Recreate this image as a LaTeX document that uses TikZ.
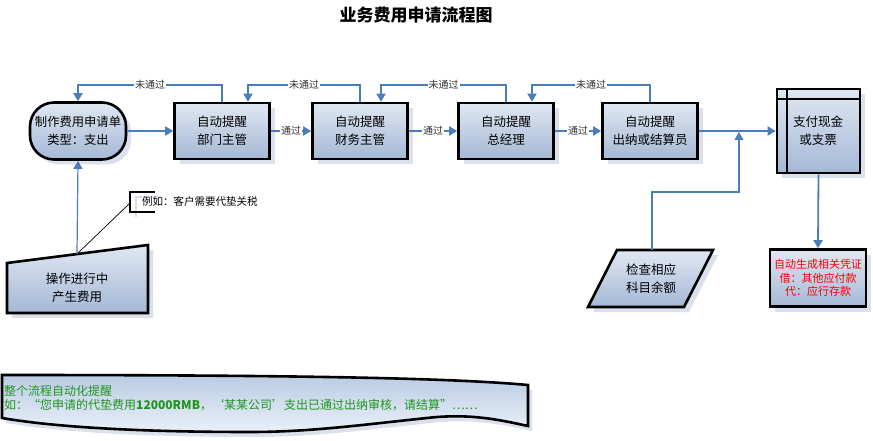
\documentclass[tikz,border=0pt]{standalone}
\usepackage{fontspec}
\setmainfont{Noto Sans CJK SC}
\usetikzlibrary{arrows.meta,shadows}
\definecolor{linkblue}{RGB}{74,126,187}
\definecolor{boxtop}{RGB}{224,231,242}
\definecolor{boxbot}{RGB}{164,184,214}
\definecolor{shadowc}{RGB}{218,225,237}
\definecolor{notegreen}{RGB}{30,150,30}
\definecolor{wavetop}{RGB}{186,203,228}
\definecolor{wavebot}{RGB}{234,240,248}
\definecolor{lblgray}{RGB}{50,50,50}
\begin{document}
\begin{tikzpicture}[x=1pt,y=-1pt,
  boxfill/.style={shading=axis, top color=boxtop, bottom color=boxbot},
  shad/.style={drop shadow={shadow xshift=5pt, shadow yshift=-5pt, fill=shadowc, opacity=1}},
  proc/.style={draw=black, line width=2.6pt, boxfill, shad, minimum width=95pt, minimum height=56pt,
    align=center, inner sep=1pt, font=\fontsize{12.5}{18}\selectfont},
  startbox/.style={proc, rounded corners=24pt, minimum width=96pt, minimum height=57pt, font=\fontsize{12.3}{18}\selectfont},
  txt/.style={align=center, inner sep=0pt, font=\fontsize{12.5}{18}\selectfont},
  arr/.style={draw=linkblue, line width=1.8pt, -{Triangle[width=9pt,length=8pt]}},
  arrthin/.style={draw=linkblue, line width=1.2pt, -{Triangle[width=9pt,length=8pt]}},
  lbl/.style={fill=white, inner sep=1pt, text=lblgray, font=\fontsize{10}{12}\selectfont},
  titlestyle/.style={inner sep=0pt, font=\fontsize{17}{20}\selectfont\bfseries},
  wavetext/.style={anchor=west, inner sep=0pt, text=notegreen, font=\fontsize{12}{14}\selectfont}
]
\useasboundingbox (0,0) rectangle (873,441);

% title
\node[titlestyle] (title) at (416,15) {业务费用申请流程图};

% main row
\node[startbox] (start) at (78,131) {制作费用申请单\\类型：支出};
\node[proc] (b1) at (222,131) {自动提醒\\部门主管};
\node[proc] (b2) at (360,131) {自动提醒\\财务主管};
\node[proc] (b3) at (506,131) {自动提醒\\总经理};
\node[proc] (b4) at (650,131) {自动提醒\\出纳或结算员};

% internal storage
\node[proc, minimum width=83pt, minimum height=84pt] (b5) at (818.5,131) {};
\draw[line width=2pt] ([xshift=11pt]b5.north west) -- ([xshift=11pt]b5.south west);
\draw[line width=2pt] ([yshift=-11pt]b5.north west) -- ([yshift=-11pt]b5.north east);
\node[txt] (b5t) at (818,131) {支付现金\\或支票};

% red result box
\node[proc, minimum width=96pt, minimum height=57pt, text=red,
  font=\fontsize{11}{13.5}\selectfont] (red) at (818,278) {自动生成相关凭证\\借：其他应付款\\代：应行存款};

% parallelogram
\draw[line width=2.6pt, boxfill, shad] (588,307) -- (617,250) -- (713,250) -- (684,307) -- cycle;
\node[txt] (para) at (651,279) {检查相应\\科目余额};
\coordinate (paratop) at (652,250);

% manual input
\draw[line width=2.6pt, boxfill, shad] (7,263) -- (148,245) -- (148,313) -- (7,313) -- cycle;
\node[txt] (manual) at (77,288) {操作进行中\\产生费用};
\coordinate (mtop) at (77,254);

% annotation
\draw[line width=1.5pt, shadowc] (161,197) -- (136,197) -- (136,217);
\draw[line width=2.6pt] (155,192) -- (130,192) -- (130,212) -- (155,212);
\coordinate (brk) at (130,203);
\draw[line width=0.7pt, black] (brk) -- (mtop);
\node[anchor=west, inner sep=0pt, font=\fontsize{10.5}{12}\selectfont] (note) at (142,201) {例如：客户需要代垫关税};

% wave document
\draw[line width=2.6pt, shading=axis, top color=wavetop, bottom color=wavebot,
  drop shadow={shadow xshift=4pt, shadow yshift=-5pt, fill=shadowc, opacity=1}]
  (2,375) .. controls (300,375) and (450,378) .. (528,385) -- (528,426)
  .. controls (500,420) and (470,413) .. (427,418)
  .. controls (360,425) and (310,432) .. (250,432)
  .. controls (150,432) and (60,428) .. (2,418) -- cycle;
\node[wavetext] (w1) at (4,391) {整个流程自动化提醒};
\node[wavetext] (w2) at (4,405) {如：“您申请的代垫费用\textbf{12000RMB}，‘某某公司’支出已通过出纳审核，请结算”……};

% forward connectors
\draw[arr] (start.east) -- (b1.west);
\draw[arr] (b1.east) -- node[lbl]{通过} (b2.west);
\draw[arr] (b2.east) -- node[lbl]{通过} (b3.west);
\draw[arr] (b3.east) -- node[lbl]{通过} (b4.west);
\draw[arr] (b4.east) -- (b5.west);
\draw[arr] (b5.south) -- (red.north);

% join from check box
\coordinate (jn) at (739,132);
\coordinate (y192) at (0,192);
\draw[arrthin] (paratop) -- (paratop |- y192) -- (jn |- y192) -- (jn);

% manual input up to start
\draw[arrthin] (mtop) -- (start.south);

% feedback loops
\coordinate (y85) at (0,85);
\coordinate (t1) at ([xshift=26pt]b1.north);
\coordinate (t2) at ([xshift=21pt]b2.north);
\coordinate (t3) at ([xshift=26pt]b3.north);
\draw[arr] (b1.north) -- (b1.north |- y85) -- node[lbl]{未通过} (start.north |- y85) -- (start.north);
\draw[arr] (b2.north) -- (b2.north |- y85) -- node[lbl]{未通过} (t1 |- y85) -- (t1);
\draw[arr] (b3.north) -- (b3.north |- y85) -- node[lbl]{未通过} (t2 |- y85) -- (t2);
\draw[arr] (b4.north) -- (b4.north |- y85) -- node[lbl]{未通过} (t3 |- y85) -- (t3);
\end{tikzpicture}
\end{document}
